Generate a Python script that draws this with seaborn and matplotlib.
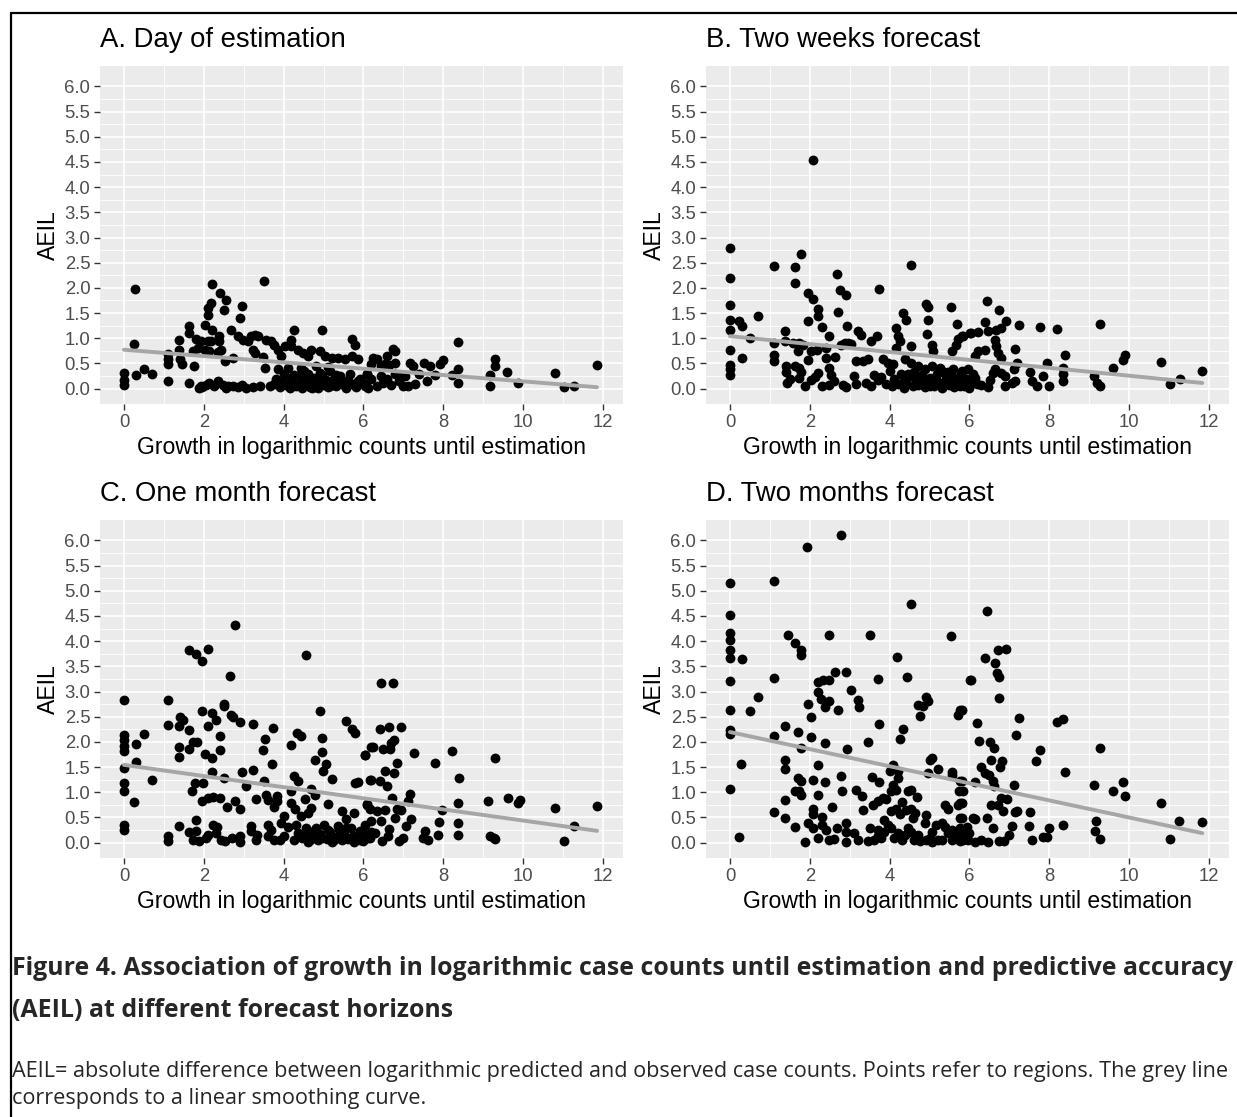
import matplotlib
matplotlib.use('Agg')
import matplotlib.pyplot as plt
import seaborn as sns

# A. Day of estimation
x_a = [0.28, 0.24, 0, 0, 0, 0.30, 0.51, 0.71, 1.11, 1.11,
       1.11, 1.11, 1.39, 1.39, 1.41, 1.45, 1.62, 1.62, 1.62, 1.72,
       1.75, 1.81, 1.87, 1.93, 2.06, 2.14, 2.02, 2.10, 2.10, 2.17,
       2.21, 2.21, 1.93, 2.10, 2.18, 1.85, 2.02, 2.14, 2.35, 2.42,
       2.39, 2.39, 2.41, 2.56, 2.50, 2.52, 2.35, 2.48, 2.60, 2.73,
       2.85, 2.69, 2.73, 2.90, 2.96, 2.85, 2.98, 3.10, 3.19, 3.27,
       3.36, 3.23, 3.27, 3.23, 3.50, 3.48, 3.54, 3.56, 3.69, 3.77,
       3.86, 3.94, 4.19, 4.26, 4.03, 4.19, 4.36, 4.48, 4.61, 4.69,
       4.96, 4.90, 5.03, 5.20, 5.36, 5.70, 5.78, 5.53, 5.70, 5.87,
       3.65, 3.75, 3.80, 3.90, 3.95, 4.00, 4.05, 4.10, 4.15, 4.20,
       4.30, 4.35, 4.40, 4.45, 4.50, 4.55, 4.60, 4.65, 4.70, 4.75,
       4.80, 4.85, 4.90, 4.95, 5.00, 5.05, 5.10, 5.15, 5.20, 5.25,
       5.30, 5.35, 5.40, 5.50, 5.55, 5.60, 5.70, 5.80, 5.90, 6.00,
       6.10, 6.08, 6.03, 6.12, 6.25, 6.33, 6.20, 6.45, 6.55, 6.65,
       6.80, 6.60, 6.75, 6.79, 6.45, 6.50, 6.60, 6.70, 6.80, 6.90,
       7.00, 7.16, 7.25, 7.04, 7.12, 7.52, 7.67, 7.79, 7.58, 7.91,
       8.00, 8.21, 8.36, 8.36, 8.36, 9.30, 9.30, 9.17, 9.16, 9.60,
       9.88, 10.80, 11.01, 11.28, 11.85, 3.86, 4.11, 4.44, 4.80, 5.10,
       1.95, 2.25, 2.55, 2.95, 3.05, 3.40, 4.25, 4.50, 4.70, 4.90,
       5.15, 5.30, 5.45, 5.65, 5.85, 6.20, 6.35, 6.90, 7.30, 7.40]
y_a = [1.98, 0.89, 0.32, 0.18, 0.08, 0.27, 0.38, 0.30, 0.68, 0.58,
       0.48, 0.15, 0.97, 0.77, 0.58, 0.48, 1.25, 1.10, 0.11, 0.74,
       0.44, 0.99, 0.01, 0.06, 0.08, 0.11, 1.27, 1.47, 1.60, 1.70,
       2.07, 1.17, 0.94, 0.94, 0.94, 0.81, 0.77, 0.74, 0.72, 0.77,
       1.04, 0.94, 1.90, 1.75, 1.57, 0.54, 0.15, 0.08, 0.06, 0.05,
       0.03, 1.17, 0.61, 1.40, 1.65, 1.04, 0.97, 0.94, 1.04, 1.07,
       1.05, 0.77, 0.71, 0.03, 2.13, 0.63, 0.41, 0.97, 0.94, 0.87,
       0.77, 0.64, 0.97, 1.17, 0.84, 0.84, 0.77, 0.71, 0.64, 0.77,
       1.17, 0.74, 0.64, 0.61, 0.61, 0.98, 0.87, 0.58, 0.64, 0.58,
       0.05, 0.10, 0.20, 0.03, 0.15, 0.30, 0.08, 0.22, 0.02, 0.12,
       0.05, 0.25, 0.10, 0.02, 0.18, 0.08, 0.30, 0.04, 0.14, 0.22,
       0.06, 0.02, 0.12, 0.28, 0.08, 0.18, 0.03, 0.35, 0.10, 0.20,
       0.05, 0.15, 0.25, 0.08, 0.02, 0.18, 0.10, 0.04, 0.20, 0.12,
       0.30, 0.29, 0.05, 0.01, 0.61, 0.58, 0.48, 0.44, 0.48, 0.46,
       0.50, 0.64, 0.79, 0.74, 0.25, 0.12, 0.20, 0.08, 0.30, 0.15,
       0.05, 0.51, 0.44, 0.25, 0.05, 0.51, 0.44, 0.28, 0.15, 0.48,
       0.56, 0.28, 0.38, 0.11, 0.92, 0.58, 0.44, 0.28, 0.06, 0.34,
       0.11, 0.31, 0.03, 0.06, 0.46, 0.38, 0.41, 0.40, 0.45, 0.42,
       0.03, 0.05, 0.02, 0.07, 0.02, 0.05, 0.28, 0.35, 0.02, 0.32,
       0.05, 0.28, 0.12, 0.30, 0.15, 0.20, 0.05, 0.28, 0.10, 0.30]

# B. Two weeks forecast
x_b = [2.08, 0, 0, 0, 0, 0, 0, 0, 0, 0,
       0.23, 0.29, 0.29, 0.51, 0.69, 1.11, 1.11, 1.11, 1.11, 1.38,
       1.38, 1.41, 1.41, 1.43, 1.62, 1.62, 1.78, 1.57, 1.74, 1.82,
       1.70, 1.62, 1.74, 1.78, 1.74, 1.87, 2.03, 2.12, 2.20, 1.95,
       2.09, 1.95, 2.20, 2.20, 2.30, 1.95, 2.03, 2.18, 2.41, 2.41,
       2.49, 2.49, 2.54, 2.47, 2.68, 2.70, 2.76, 2.90, 2.64, 2.79,
       2.87, 2.95, 3.04, 2.94, 2.83, 2.90, 3.16, 3.20, 3.29, 3.16,
       3.33, 3.46, 3.54, 3.68, 3.73, 3.54, 3.71, 3.79, 3.83, 3.96,
       4.08, 4.17, 4.21, 4.25, 4.17, 4.33, 4.42, 4.54, 4.54, 4.38,
       4.54, 4.71, 4.88, 5.05, 4.92, 4.96, 4.96, 4.94, 5.05, 5.09,
       5.53, 5.69, 5.71, 5.80, 5.67, 5.57, 5.25, 5.46, 5.59, 6.01,
       4.05, 4.12, 4.20, 4.28, 4.35, 4.42, 4.50, 4.58, 4.65, 4.72,
       4.80, 4.88, 4.95, 5.02, 5.10, 5.18, 5.25, 5.32, 5.40, 5.48,
       5.55, 5.62, 5.70, 5.78, 5.85, 5.92, 6.00, 6.05, 4.62, 5.30,
       6.44, 6.73, 6.40, 6.91, 6.80, 6.67, 6.05, 6.22, 6.47, 5.84,
       6.64, 6.67, 6.22, 6.39, 6.72, 6.80, 6.13, 7.25, 7.14, 7.77,
       8.20, 7.18, 7.12, 7.52, 7.85, 7.93, 7.99, 7.56, 7.68, 6.89,
       7.06, 7.14, 6.47, 6.51, 6.59, 6.64, 6.80, 5.80, 5.90, 6.00,
       6.10, 6.20, 5.95, 8.38, 8.35, 8.35, 8.35, 9.27, 9.11, 9.20,
       9.27, 9.59, 9.84, 9.90, 10.79, 11.01, 11.27, 11.83,
       3.60, 3.90, 4.00, 4.30, 4.45, 4.70, 4.85, 5.00, 5.15, 5.40,
       5.60, 5.75, 6.15, 6.30, 6.90, 2.60, 2.30, 3.10, 3.40, 1.50]
y_b = [4.54, 2.80, 2.20, 1.66, 1.36, 1.16, 0.77, 0.46, 0.38, 0.28,
       1.34, 1.25, 0.61, 1.01, 1.44, 2.44, 0.91, 0.66, 0.54, 1.15,
       0.94, 0.44, 0.34, 0.11, 2.41, 2.09, 2.68, 0.91, 0.91, 0.87,
       0.74, 0.44, 0.41, 0.34, 0.21, 0.05, 0.18, 0.24, 0.32, 1.89,
       1.78, 1.34, 1.58, 1.44, 1.22, 0.56, 0.74, 0.77, 0.81, 0.61,
       1.04, 0.41, 0.28, 0.08, 2.28, 1.52, 1.95, 1.85, 0.63, 0.87,
       0.91, 0.91, 0.89, 1.24, 0.08, 0.03, 0.09, 1.15, 1.07, 0.54,
       0.54, 0.58, 0.94, 1.04, 1.97, 0.05, 0.18, 0.24, 0.58, 0.51,
       0.48, 1.20, 1.04, 0.94, 0.81, 1.50, 1.36, 0.84, 2.45, 0.58,
       0.51, 0.44, 0.38, 0.44, 1.69, 1.63, 1.36, 1.09, 0.87, 0.74,
       1.62, 1.29, 0.98, 1.05, 0.87, 0.74, 0.41, 0.34, 0.38, 1.11,
       0.05, 0.20, 0.10, 0.30, 0.02, 0.15, 0.25, 0.05, 0.18, 0.08,
       0.28, 0.03, 0.14, 0.22, 0.06, 0.30, 0.12, 0.02, 0.20, 0.08,
       0.26, 0.04, 0.15, 0.30, 0.06, 0.20, 0.02, 0.12, 0.34, 0.36,
       1.73, 1.56, 1.33, 1.35, 1.21, 1.17, 1.11, 1.13, 1.14, 1.04,
       0.97, 0.84, 0.74, 0.77, 0.70, 0.61, 0.64, 1.27, 0.79, 1.22,
       1.19, 0.51, 0.39, 0.33, 0.25, 0.51, 0.05, 0.15, 0.05, 0.06,
       0.11, 0.15, 0.03, 0.18, 0.31, 0.38, 0.31, 0.35, 0.20, 0.05,
       0.30, 0.10, 0.38, 0.66, 0.41, 0.30, 0.15, 1.28, 0.25, 0.11,
       0.06, 0.41, 0.56, 0.67, 0.53, 0.10, 0.20, 0.35,
       0.28, 0.10, 0.35, 0.12, 0.30, 0.25, 0.12, 0.05, 0.18, 0.28,
       0.12, 0.05, 0.22, 0.08, 0.25, 0.15, 0.05, 0.25, 0.12, 0.20]

# C. One month forecast
x_c = [2.78, 1.62, 1.81, 1.95, 2.10, 4.55, 2.65, 0, 1.11, 1.11,
       1.41, 1.47, 1.39, 1.62, 1.96, 2.21, 2.31, 2.10, 2.50, 2.50,
       2.69, 2.73, 2.91, 3.24, 3.74, 0, 0, 0, 0, 0.30,
       0.51, 0.30, 0, 0, 0, 0.24, 0.71, 0, 0, 1.39,
       1.39, 1.64, 1.72, 1.83, 2.02, 2.21, 2.41, 2.41, 2.21, 1.77,
       1.98, 1.71, 2.50, 2.96, 3.24, 3.06, 1.96, 2.10, 2.23, 2.41,
       2.58, 2.78, 2.91, 1.39, 1.81, 2.23, 2.34, 1.64, 1.81, 1.11,
       1.11, 1.72, 1.89, 2.06, 2.10, 2.44, 2.52, 2.90, 2.90, 3.19,
       3.19, 3.33, 3.30, 3.50, 3.54, 3.48, 3.72, 3.57, 3.61, 3.83,
       3.83, 3.76, 4.19, 4.34, 4.44, 4.26, 4.36, 4.19, 4.54, 4.69,
       4.78, 4.19, 4.28, 4.44, 4.61, 4.69, 4.02, 3.94, 4.11, 3.69,
       3.61, 3.77, 4.02, 4.78, 4.97, 5.07, 4.97, 4.90, 4.99, 5.21,
       5.11, 5.56, 5.70, 5.78, 6.05, 5.78, 5.85, 5.45, 5.57, 5.76,
       6.08, 5.36, 6.16, 6.20, 4.25, 4.35, 4.45, 4.55, 4.62, 4.70,
       4.78, 4.85, 4.92, 5.00, 5.08, 5.15, 5.22, 5.30, 5.38, 5.45,
       5.52, 5.60, 5.68, 5.75, 5.82, 5.90, 5.98, 6.05, 6.12, 6.18,
       6.45, 6.75, 6.41, 6.64, 6.94, 6.70, 6.77, 6.24, 6.49, 6.66,
       6.05, 7.26, 8.21, 7.79, 9.30, 6.85, 6.54, 6.76, 8.39, 6.20,
       6.41, 6.60, 6.72, 7.16, 7.12, 6.08, 6.16, 6.33, 6.54, 6.83,
       6.94, 6.80, 7.20, 7.06, 6.18, 6.44, 7.97, 7.90, 8.36, 8.36,
       8.36, 7.54, 7.50, 7.62, 7.87, 5.95, 6.16, 6.00, 6.47, 6.62,
       6.90, 9.13, 9.17, 9.26, 9.30, 9.61, 9.86, 9.91, 10.79, 11.27,
       11.02, 11.85,
       4.30, 4.50, 4.65, 4.80, 4.95, 5.10, 5.25, 5.40, 5.55, 5.70,
       5.90, 6.00, 3.90, 3.60, 6.30, 6.65, 7.00, 3.30, 2.70, 2.30]
y_c = [4.32, 3.82, 3.75, 3.60, 3.85, 3.72, 3.31, 2.84, 2.84, 2.34,
       2.50, 2.44, 2.31, 2.23, 2.61, 2.58, 2.44, 2.32, 2.75, 2.71,
       2.54, 2.50, 2.40, 2.36, 2.28, 2.13, 2.03, 1.91, 1.81, 1.95,
       2.15, 1.60, 1.48, 1.19, 1.02, 0.80, 1.24, 0.36, 0.26, 1.89,
       1.70, 1.86, 1.99, 1.99, 1.75, 1.68, 2.11, 1.83, 1.40, 1.19,
       1.19, 1.03, 1.28, 1.41, 1.45, 1.12, 0.82, 0.89, 0.91, 0.89,
       0.70, 0.82, 0.67, 0.34, 0.44, 0.36, 0.31, 0.22, 0.24, 0.13,
       0.04, 0.06, 0.03, 0.09, 0.16, 0.06, 0.04, 0.13, 0.01, 0.34,
       0.23, 0.16, 0.87, 1.23, 2.06, 1.83, 1.56, 0.95, 0.85, 0.92,
       0.82, 0.70, 1.93, 2.17, 2.11, 1.32, 1.22, 1.02, 0.87, 1.07,
       0.95, 0.79, 0.66, 0.52, 0.59, 0.69, 0.52, 0.39, 0.32, 0.26,
       0.13, 0.06, 0.13, 1.64, 1.80, 1.57, 2.08, 2.62, 1.42, 1.27,
       0.77, 2.41, 2.26, 2.18, 1.74, 1.19, 1.21, 0.62, 0.46, 0.58,
       0.75, 0.34, 1.25, 1.89, 0.05, 0.20, 0.10, 0.30, 0.02, 0.15,
       0.25, 0.05, 0.18, 0.35, 0.08, 0.22, 0.02, 0.12, 0.28, 0.05,
       0.18, 0.08, 0.30, 0.02, 0.14, 0.24, 0.06, 0.35, 0.10, 0.22,
       3.16, 3.16, 2.25, 2.29, 2.30, 1.98, 2.03, 1.90, 1.85, 1.86,
       1.74, 1.77, 1.81, 1.58, 1.69, 1.58, 1.42, 1.38, 1.28, 1.25,
       1.22, 1.12, 0.89, 0.97, 0.82, 0.77, 0.66, 0.62, 0.64, 0.67,
       0.64, 0.49, 0.46, 0.34, 0.42, 0.42, 0.64, 0.41, 0.79, 0.38,
       0.15, 0.23, 0.09, 0.06, 0.15, 0.23, 0.09, 0.03, 0.03, 0.13,
       0.04, 0.82, 0.14, 0.09, 0.08, 0.88, 0.79, 0.85, 0.68, 0.34,
       0.04, 0.72,
       0.35, 0.15, 0.05, 0.30, 0.10, 0.25, 0.05, 0.18, 0.30, 0.12,
       0.05, 0.18, 0.05, 0.35, 0.20, 0.28, 0.10, 0.05, 0.10, 0.20]

# D. Two months forecast
x_d = [2.77, 1.94, 0, 1.11, 0, 4.54, 0, 0, 0, 0,
       0.29, 1.45, 1.62, 1.78, 1.78, 2.49, 3.52, 5.53, 4.18, 0,
       1.11, 2.20, 2.33, 2.49, 2.64, 2.90, 3.71, 4.43, 6.01, 2.20,
       3.04, 2.28, 2.49, 2.39, 1.95, 2.70, 3.20, 3.22, 0.69, 0,
       0.51, 2.02, 1.38, 1.70, 0, 0, 1.11, 2.02, 1.78, 2.39,
       2.94, 3.46, 3.73, 4.33, 4.26, 4.71, 4.84, 4.95, 4.92, 4.76,
       5.76, 5.70, 5.00, 5.05, 5.20, 5.55, 5.56, 5.76, 4.96, 4.08,
       4.00, 4.21, 0.28, 0, 0.23, 1.38, 1.38, 2.20, 2.77, 1.70,
       1.78, 1.62, 1.74, 1.78, 2.09, 2.39, 2.20, 2.80, 3.16, 3.31,
       3.56, 3.73, 1.38, 1.11, 1.38, 1.62, 1.95, 2.07, 2.31, 2.41,
       2.07, 2.07, 2.56, 2.69, 2.90, 2.90, 1.87, 2.20, 2.47, 2.90,
       3.20, 3.33, 3.46, 3.62, 3.71, 3.79, 3.71, 3.87, 3.58, 3.70,
       3.83, 3.92, 4.04, 4.17, 4.08, 4.21, 4.32, 4.46, 4.54, 4.69,
       4.04, 4.17, 4.25, 3.96, 4.04, 4.21, 4.38, 4.54, 4.54, 4.63,
       4.59, 4.88, 5.05, 4.60, 4.75, 4.90, 5.05, 5.20, 5.38, 5.46,
       5.70, 5.76, 5.73, 5.76, 5.30, 5.38, 5.55, 5.76, 5.93, 5.55,
       5.76, 5.97, 6.43, 6.72, 6.91, 6.40, 6.64, 6.68, 6.75, 6.05,
       6.73, 5.80, 6.19, 7.25, 7.17, 8.19, 8.34, 6.24, 6.51, 6.62,
       7.77, 7.66, 9.27, 6.54, 6.82, 6.76, 6.30, 6.40, 6.48, 6.14,
       6.60, 6.61, 5.80, 5.84, 7.11, 8.38, 9.11, 9.85, 9.89, 9.59,
       10.79, 6.80, 6.93, 6.54, 6.72, 6.83, 7.14, 7.20, 7.52, 5.80,
       5.80, 6.09, 6.15, 6.43, 7.06, 7.49, 7.99, 8.35, 7.85, 7.93,
       7.56, 5.80, 5.88, 5.84, 6.13, 6.47, 6.75, 6.87, 9.17, 9.15,
       9.28, 11.01, 11.26, 11.83,
       4.30, 4.45, 4.70, 5.00, 5.15, 5.30, 5.45, 5.65, 6.00, 6.30,
       4.10, 3.85, 3.50, 3.10, 2.60, 2.30, 6.60, 7.00, 4.90, 4.40]
y_d = [6.10, 5.86, 5.15, 5.19, 4.52, 4.74, 4.17, 4.02, 3.83, 3.67,
       3.64, 4.13, 3.97, 3.83, 3.72, 4.13, 4.12, 4.11, 3.68, 3.21,
       3.27, 3.19, 3.22, 3.22, 3.38, 3.39, 3.24, 3.28, 3.23, 2.99,
       3.04, 2.86, 2.82, 2.69, 2.76, 2.64, 2.83, 2.70, 2.90, 2.63,
       2.62, 2.49, 2.32, 2.20, 2.23, 2.16, 2.11, 2.10, 1.88, 1.97,
       1.86, 1.99, 2.35, 2.26, 2.06, 2.74, 2.71, 2.81, 2.89, 2.51,
       2.64, 2.54, 1.65, 1.68, 1.47, 1.40, 1.35, 1.23, 1.38, 1.55,
       1.43, 1.42, 1.57, 1.07, 0.11, 1.65, 1.46, 1.55, 1.32, 1.28,
       1.22, 1.02, 1.02, 0.95, 1.24, 1.20, 0.95, 1.02, 1.05, 0.92,
       1.30, 1.21, 0.85, 0.60, 0.49, 0.31, 0.38, 0.29, 0.36, 0.26,
       0.66, 0.57, 0.70, 0.29, 0.38, 0.21, 0.01, 0.09, 0.05, 0.02,
       0.06, 0.64, 0.03, 0.06, 0.13, 0.09, 0.26, 0.22, 0.75, 0.82,
       0.89, 0.86, 1.02, 1.05, 1.15, 1.28, 0.80, 1.02, 1.05, 0.90,
       0.62, 0.66, 0.56, 0.36, 0.29, 0.19, 0.16, 0.22, 0.66, 0.59,
       0.49, 0.39, 0.22, 0.05, 0.03, 0.06, 0.02, 0.05, 0.75, 0.66,
       0.75, 0.79, 1.02, 0.48, 0.39, 0.32, 0.26, 0.29, 0.32, 0.06,
       0.03, 0.06, 4.60, 3.83, 3.85, 3.67, 3.56, 3.36, 3.28, 3.23,
       2.87, 2.63, 2.38, 2.47, 2.13, 2.40, 2.46, 2.01, 2.00, 1.88,
       1.83, 1.62, 1.87, 1.64, 1.62, 1.50, 1.50, 1.38, 1.34, 1.20,
       1.23, 1.12, 1.22, 1.02, 1.14, 1.40, 1.14, 1.21, 0.93, 1.02,
       0.79, 0.89, 0.86, 0.75, 0.75, 0.62, 0.61, 0.62, 0.61, 0.79,
       0.49, 0.49, 0.46, 0.48, 0.34, 0.34, 0.30, 0.36, 0.11, 0.12,
       0.06, 0.23, 0.19, 0.06, 0.01, 0.01, 0.03, 0.03, 0.42, 0.23,
       0.07, 0.07, 0.42, 0.40,
       0.05, 0.30, 0.15, 0.10, 0.35, 0.05, 0.20, 0.15, 0.20, 0.05,
       0.10, 0.45, 0.30, 0.20, 0.08, 0.50, 0.30, 0.15, 0.55, 0.65]

titles = ['A. Day of estimation', 'B. Two weeks forecast',
          'C. One month forecast', 'D. Two months forecast']
x_ticks = [0, 2, 4, 6, 8, 10, 12]
y_ticks = [0.0, 0.5, 1.0, 1.5, 2.0, 2.5, 3.0, 3.5, 4.0, 4.5, 5.0, 5.5, 6.0]
x_label = 'Growth in logarithmic counts until estimation'
y_label = 'AEIL'
caption = ['Figure 4. Association of growth in logarithmic case counts until estimation and predictive accuracy',
           '(AEIL) at different forecast horizons']
note = ['AEIL= absolute difference between logarithmic predicted and observed case counts. Points refer to regions. The grey line',
        'corresponds to a linear smoothing curve.']

sns.set_theme(style='darkgrid', rc={'axes.facecolor': '#EBEBEB', 'grid.color': 'white'})
plt.rcParams['font.family'] = ['Liberation Sans', 'DejaVu Sans']

W, H = 1237, 1117
fig = plt.figure(figsize=(W / 100, H / 100), dpi=100)
fig.patch.set_facecolor('white')

# panel boxes in pixels: left, top, right, bottom
boxes = [(100, 66, 623, 404), (706, 66, 1229, 404),
         (100, 520, 623, 858), (706, 520, 1229, 858)]
data = [(x_a, y_a), (x_b, y_b), (x_c, y_c), (x_d, y_d)]

for (l, t, r, b), (xs, ys), title in zip(boxes, data, titles):
    ax = fig.add_axes([l / W, 1 - b / H, (r - l) / W, (b - t) / H])
    sns.regplot(x=xs, y=ys, ax=ax, ci=None,
                scatter_kws=dict(s=50, color='black', linewidths=0, alpha=1),
                line_kws=dict(color='#A6A6A6', lw=2.8))
    ax.set_xlim(-0.6, 12.5)
    ax.set_ylim(-0.305, 6.405)
    ax.set_xticks(x_ticks)
    ax.set_xticks([1, 3, 5, 7, 9, 11], minor=True)
    ax.set_yticks(y_ticks)
    ax.set_yticks([v + 0.25 for v in y_ticks[:-1]], minor=True)
    ax.set_yticklabels([f'{v:.1f}' for v in y_ticks])
    ax.grid(which='major', color='white', lw=1.2)
    ax.grid(which='minor', color='white', lw=0.6)
    ax.set_axisbelow(True)
    for s in ax.spines.values():
        s.set_visible(False)
    ax.tick_params(which='major', length=4, width=1, color='#333333',
                   labelsize=13.3, labelcolor='#4D4D4D', pad=3,
                   bottom=True, left=True)
    ax.tick_params(which='minor', length=0)
    ax.set_xlabel(x_label, fontsize=16.6, color='black', labelpad=4)
    ax.set_ylabel(y_label, fontsize=16.6, color='black', labelpad=3)
    fig.text(l / W, 1 - (t - 19) / H, title, fontsize=19.8, color='black',
             ha='left', va='baseline')

# frame lines
fig.add_artist(plt.Line2D([11 / W, 1], [1 - 13 / H, 1 - 13 / H], color='black', lw=1.6))
fig.add_artist(plt.Line2D([11 / W, 11 / W], [1 - 13 / H, 0], color='black', lw=1.6))

cap_font = ['Liberation Sans Narrow', 'Open Sans', 'DejaVu Sans']
t1 = fig.text(12 / W, 1 - 975 / H, caption[0], fontsize=17, fontweight='bold',
              family=cap_font, ha='left', va='baseline')
t2 = fig.text(12 / W, 1 - 1017 / H, caption[1], fontsize=17, fontweight='bold',
              family=cap_font, ha='left', va='baseline')
t3 = fig.text(12 / W, 1 - 1077 / H, note[0], fontsize=12,
              family=cap_font, ha='left', va='baseline')
t4 = fig.text(12 / W, 1 - 1104 / H, note[1], fontsize=12,
              family=cap_font, ha='left', va='baseline')

# scale caption fonts so the full lines span the page width
fig.canvas.draw()
rend = fig.canvas.get_renderer()
for full, partner, target in [(t1, t2, 1218), (t3, t4, 1210)]:
    w = full.get_window_extent(renderer=rend).width
    fs = full.get_fontsize() * target / w
    full.set_fontsize(fs)
    partner.set_fontsize(fs)

fig.savefig('out.png', dpi=100, facecolor='white')
